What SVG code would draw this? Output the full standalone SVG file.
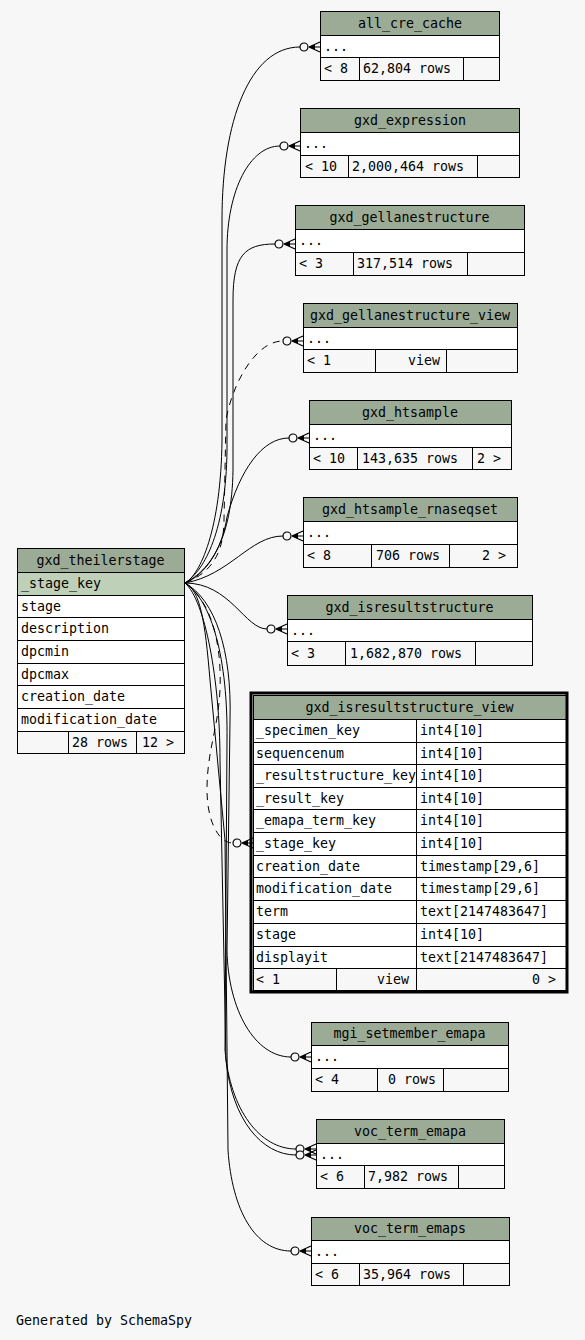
<svg xmlns="http://www.w3.org/2000/svg" xmlns:xlink="http://www.w3.org/1999/xlink" width="585" height="1340" viewBox="0 0 585 1340">
<style>
text{font-family:"DejaVu Sans Mono","Liberation Mono",monospace;font-size:13.3px;fill:#000}
.c{text-anchor:middle}.e{text-anchor:end}
.h{fill:#9bab96;stroke:#000}.r{fill:#fff;stroke:#000}.k{fill:#bed1b8;stroke:#000}.f{fill:#f7f7f7;stroke:#000}
.cn{fill:none;stroke:#000;stroke-width:1}.d{stroke-dasharray:7,6}
</style>
<defs>
<g id="cf" stroke="#000" stroke-width="1.2"><circle cx="-16" cy="0" r="4" fill="#f7f7f7"/><path d="M-11,0 L0,-5 M-11,0 L0,0 M-11,0 L0,5" fill="none"/><path d="M-11,0 L-5,-2.8 L-5,2.8Z" fill="#000" stroke="none"/></g>
</defs>
<rect width="585" height="1340" fill="#f7f7f7"/>
<g id="connectors">
<path class="cn" d="M185,583 C200,575 221,530 222,440 L222,220 C222,120 250,47 300,47"/>
<path class="cn" d="M185,583 C205,570 226,530 227,450 L227,250 C227,190 250,146 280,146"/>
<path class="cn" d="M185,583 C210,570 232,540 233,470 L233,300 C233,255 245,244 275,244"/>
<path class="cn d" d="M185,583 C205,575 224,560 224,520 L226,420 C232,385 255,341 283,341"/>
<path class="cn" d="M185,583 C205,575 222,550 227,517 C240,470 262,438 289,438"/>
<path class="cn" d="M185,583 C230,575 250,536 283,536"/>
<path class="cn" d="M185,583 C230,583 245,629 267,629"/>
<path class="cn d" d="M185,583 C210,600 222,640 220,690 C218,730 207,750 207,790 C207,820 218,843 233,843"/>
<path class="cn" d="M185,583 C215,600 232,650 230,720 L227,950 C228,1010 255,1057 291,1057"/>
<path class="cn" d="M185,583 C212,600 228,660 227,740 L225,1050 C230,1110 260,1149 296,1149"/>
<path class="cn" d="M185,583 C205,600 220,680 220,760 L226,1060 C232,1120 262,1155 296,1155"/>
<path class="cn" d="M185,583 C200,590 205,620 210,680 L225,840 L228,1150 C232,1210 255,1251 291,1251"/>
<use xlink:href="#cf" href="#cf" x="320" y="47"/>
<use xlink:href="#cf" href="#cf" x="300" y="146"/>
<use xlink:href="#cf" href="#cf" x="295" y="244"/>
<use xlink:href="#cf" href="#cf" x="303" y="341"/>
<use xlink:href="#cf" href="#cf" x="309" y="438"/>
<use xlink:href="#cf" href="#cf" x="303" y="536"/>
<use xlink:href="#cf" href="#cf" x="287" y="629"/>
<use xlink:href="#cf" href="#cf" x="253" y="843"/>
<use xlink:href="#cf" href="#cf" x="311" y="1057"/>
<use xlink:href="#cf" href="#cf" x="316" y="1149"/>
<use xlink:href="#cf" href="#cf" x="316" y="1155"/>
<use xlink:href="#cf" href="#cf" x="311" y="1251"/>
</g>
<g id="all_cre_cache">
<rect class="h" x="320.5" y="11.5" width="179" height="24"/><text class="c" x="410" y="27.5">all_cre_cache</text>
<rect class="r" x="320.5" y="35.5" width="179" height="22"/><text x="324" y="50.5">...</text>
<rect class="f" x="320.5" y="57.5" width="39" height="23"/><rect class="f" x="359.5" y="57.5" width="104" height="23"/><rect class="f" x="463.5" y="57.5" width="36" height="23"/>
<text x="324" y="73">&lt; 8</text><text x="363" y="73">62,804 rows</text>
</g>
<g id="gxd_expression">
<rect class="h" x="300.5" y="108.5" width="219" height="24"/><text class="c" x="410" y="124.5">gxd_expression</text>
<rect class="r" x="300.5" y="132.5" width="219" height="23"/><text x="304" y="148">...</text>
<rect class="f" x="300.5" y="155.5" width="48" height="22"/><rect class="f" x="348.5" y="155.5" width="129" height="22"/><rect class="f" x="477.5" y="155.5" width="42" height="22"/>
<text x="305" y="170.5">&lt; 10</text><text x="352" y="170.5">2,000,464 rows</text>
</g>
<g id="gxd_gellanestructure">
<rect class="h" x="295.5" y="205.5" width="229" height="24"/><text class="c" x="409.5" y="221.5">gxd_gellanestructure</text>
<rect class="r" x="295.5" y="229.5" width="229" height="23"/><text x="299" y="245">...</text>
<rect class="f" x="295.5" y="252.5" width="58" height="23"/><rect class="f" x="353.5" y="252.5" width="114" height="23"/><rect class="f" x="467.5" y="252.5" width="57" height="23"/>
<text x="299" y="268">&lt; 3</text><text x="357" y="268">317,514 rows</text>
</g>
<g id="gxd_gellanestructure_view">
<rect class="h" x="303.5" y="303.5" width="214" height="24"/><text class="c" x="410" y="319.5">gxd_gellanestructure_view</text>
<rect class="r" x="303.5" y="327.5" width="214" height="22"/><text x="307" y="342.5">...</text>
<rect class="f" x="303.5" y="349.5" width="72" height="23"/><rect class="f" x="375.5" y="349.5" width="71" height="23"/><rect class="f" x="446.5" y="349.5" width="71" height="23"/>
<text x="307" y="365">&lt; 1</text><text class="e" x="440" y="365">view</text>
</g>
<g id="gxd_htsample">
<rect class="h" x="309.5" y="400.5" width="202" height="24"/><text class="c" x="410" y="416.5">gxd_htsample</text>
<rect class="r" x="309.5" y="424.5" width="202" height="23"/><text x="313" y="440">...</text>
<rect class="f" x="309.5" y="447.5" width="48" height="22"/><rect class="f" x="357.5" y="447.5" width="115" height="22"/><rect class="f" x="472.5" y="447.5" width="39" height="22"/>
<text x="313" y="462.5">&lt; 10</text><text x="362" y="462.5">143,635 rows</text><text x="477" y="462.5">2 &gt;</text>
</g>
<g id="gxd_htsample_rnaseqset">
<rect class="h" x="303.5" y="497.5" width="214" height="24"/><text class="c" x="410" y="513.5">gxd_htsample_rnaseqset</text>
<rect class="r" x="303.5" y="521.5" width="214" height="23"/><text x="307" y="537">...</text>
<rect class="f" x="303.5" y="544.5" width="68" height="23"/><rect class="f" x="371.5" y="544.5" width="78" height="23"/><rect class="f" x="449.5" y="544.5" width="68" height="23"/>
<text x="307" y="560">&lt; 8</text><text x="376" y="560">706 rows</text><text class="e" x="506" y="560">2 &gt;</text>
</g>
<g id="gxd_isresultstructure">
<rect class="h" x="287.5" y="595.5" width="245" height="24"/><text class="c" x="409.5" y="611.5">gxd_isresultstructure</text>
<rect class="r" x="287.5" y="619.5" width="245" height="22"/><text x="291" y="634.5">...</text>
<rect class="f" x="287.5" y="641.5" width="58" height="24"/><rect class="f" x="345.5" y="641.5" width="130" height="24"/><rect class="f" x="475.5" y="641.5" width="57" height="24"/>
<text x="291" y="657.5">&lt; 3</text><text x="350" y="657.5">1,682,870 rows</text>
</g>
<g id="gxd_isresultstructure_view">
<rect class="h" x="253.5" y="695.5" width="313" height="24"/><text class="c" x="409.5" y="711.5">gxd_isresultstructure_view</text>
<rect class="r" x="253.5" y="719.5" width="163" height="23"/><rect class="r" x="416.5" y="719.5" width="150" height="23"/><text x="256" y="735">_specimen_key</text><text x="420" y="735">int4[10]</text>
<rect class="r" x="253.5" y="742.5" width="163" height="22"/><rect class="r" x="416.5" y="742.5" width="150" height="22"/><text x="256" y="757.5">sequencenum</text><text x="420" y="757.5">int4[10]</text>
<rect class="r" x="253.5" y="764.5" width="163" height="23"/><rect class="r" x="416.5" y="764.5" width="150" height="23"/><text x="256" y="780">_resultstructure_key</text><text x="420" y="780">int4[10]</text>
<rect class="r" x="253.5" y="787.5" width="163" height="22"/><rect class="r" x="416.5" y="787.5" width="150" height="22"/><text x="256" y="802.5">_result_key</text><text x="420" y="802.5">int4[10]</text>
<rect class="r" x="253.5" y="809.5" width="163" height="23"/><rect class="r" x="416.5" y="809.5" width="150" height="23"/><text x="256" y="825">_emapa_term_key</text><text x="420" y="825">int4[10]</text>
<rect class="r" x="253.5" y="832.5" width="163" height="23"/><rect class="r" x="416.5" y="832.5" width="150" height="23"/><text x="256" y="848">_stage_key</text><text x="420" y="848">int4[10]</text>
<rect class="r" x="253.5" y="855.5" width="163" height="22"/><rect class="r" x="416.5" y="855.5" width="150" height="22"/><text x="256" y="870.5">creation_date</text><text x="420" y="870.5">timestamp[29,6]</text>
<rect class="r" x="253.5" y="877.5" width="163" height="23"/><rect class="r" x="416.5" y="877.5" width="150" height="23"/><text x="256" y="893">modification_date</text><text x="420" y="893">timestamp[29,6]</text>
<rect class="r" x="253.5" y="900.5" width="163" height="23"/><rect class="r" x="416.5" y="900.5" width="150" height="23"/><text x="256" y="916">term</text><text x="420" y="916">text[2147483647]</text>
<rect class="r" x="253.5" y="923.5" width="163" height="23"/><rect class="r" x="416.5" y="923.5" width="150" height="23"/><text x="256" y="939">stage</text><text x="420" y="939">int4[10]</text>
<rect class="r" x="253.5" y="946.5" width="163" height="22"/><rect class="r" x="416.5" y="946.5" width="150" height="22"/><text x="256" y="961.5">displayit</text><text x="420" y="961.5">text[2147483647]</text>
<rect class="f" x="253.5" y="968.5" width="83" height="22"/><rect class="f" x="336.5" y="968.5" width="80" height="22"/><rect class="f" x="416.5" y="968.5" width="150" height="22"/>
<text x="256" y="983.5">&lt; 1</text><text class="e" x="409" y="983.5">view</text><text class="e" x="556" y="983.5">0 &gt;</text>
<rect x="251" y="693" width="316" height="299" fill="none" stroke="#000" stroke-width="3"/>
</g>
<g id="mgi_setmember_emapa">
<rect class="h" x="311.5" y="1022.5" width="197" height="23"/><text class="c" x="409.5" y="1038">mgi_setmember_emapa</text>
<rect class="r" x="311.5" y="1045.5" width="197" height="23"/><text x="315" y="1061">...</text>
<rect class="f" x="311.5" y="1068.5" width="66" height="23"/><rect class="f" x="377.5" y="1068.5" width="66" height="23"/><rect class="f" x="443.5" y="1068.5" width="65" height="23"/>
<text x="315" y="1084">&lt; 4</text><text x="388" y="1084">0 rows</text>
</g>
<g id="voc_term_emapa">
<rect class="h" x="316.5" y="1119.5" width="188" height="24"/><text class="c" x="410" y="1135.5">voc_term_emapa</text>
<rect class="r" x="316.5" y="1143.5" width="188" height="22"/><text x="320" y="1158.5">...</text>
<rect class="f" x="316.5" y="1165.5" width="48" height="23"/><rect class="f" x="364.5" y="1165.5" width="94" height="23"/><rect class="f" x="458.5" y="1165.5" width="46" height="23"/>
<text x="320" y="1181">&lt; 6</text><text x="368" y="1181">7,982 rows</text>
</g>
<g id="voc_term_emaps">
<rect class="h" x="311.5" y="1217.5" width="198" height="23"/><text class="c" x="410" y="1233">voc_term_emaps</text>
<rect class="r" x="311.5" y="1240.5" width="198" height="23"/><text x="315" y="1256">...</text>
<rect class="f" x="311.5" y="1263.5" width="48" height="22"/><rect class="f" x="359.5" y="1263.5" width="104" height="22"/><rect class="f" x="463.5" y="1263.5" width="46" height="22"/>
<text x="315" y="1278.5">&lt; 6</text><text x="363" y="1278.5">35,964 rows</text>
</g>
<g id="gxd_theilerstage">
<rect class="h" x="17.5" y="548.5" width="167" height="24"/><text class="c" x="100.5" y="564.5">gxd_theilerstage</text>
<rect class="k" x="17.5" y="572.5" width="167" height="23"/><text x="21" y="588">_stage_key</text>
<rect class="r" x="17.5" y="595.5" width="167" height="22"/><text x="21" y="610.5">stage</text>
<rect class="r" x="17.5" y="617.5" width="167" height="23"/><text x="21" y="633">description</text>
<rect class="r" x="17.5" y="640.5" width="167" height="23"/><text x="21" y="656">dpcmin</text>
<rect class="r" x="17.5" y="663.5" width="167" height="22"/><text x="21" y="678.5">dpcmax</text>
<rect class="r" x="17.5" y="685.5" width="167" height="23"/><text x="21" y="701">creation_date</text>
<rect class="r" x="17.5" y="708.5" width="167" height="23"/><text x="21" y="724">modification_date</text>
<rect class="f" x="17.5" y="731.5" width="51" height="22"/><rect class="f" x="68.5" y="731.5" width="68" height="22"/><rect class="f" x="136.5" y="731.5" width="48" height="22"/>
<text x="72" y="746.5">28 rows</text><text x="142" y="746.5">12 &gt;</text>
</g>
<text x="16" y="1325">Generated by SchemaSpy</text>
</svg>
